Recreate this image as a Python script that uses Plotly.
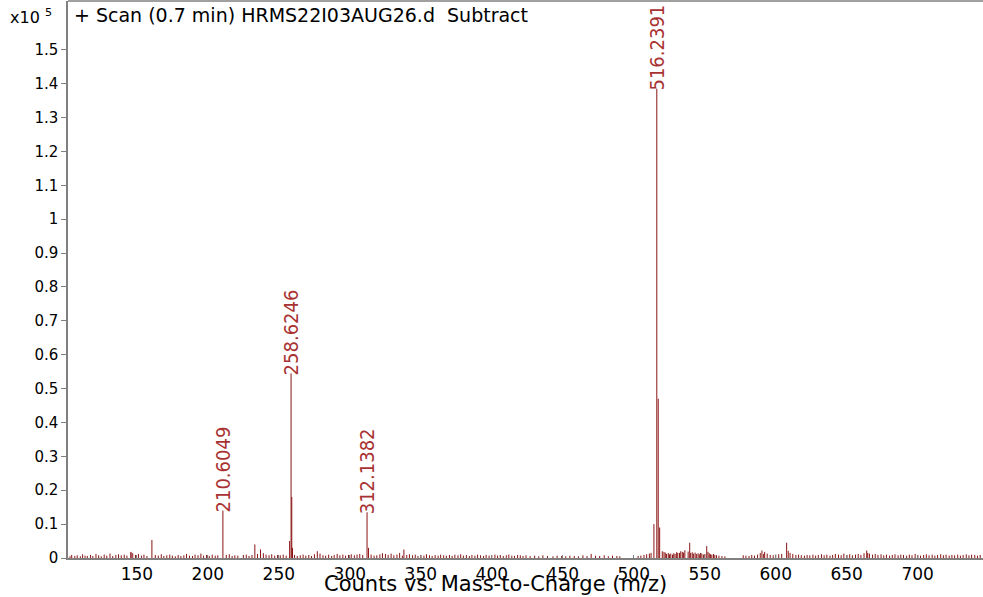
import numpy as np
import plotly.graph_objects as go

# main peaks (m/z, counts)
peak_mz = [145.9, 160.6, 210.6049, 233.1, 237.1, 257.6, 258.6246, 259.1262, 259.63,
           277.1, 312.1382, 313.14, 338.1, 514.2, 516.2391, 517.2424, 518.24,
           532.2, 539.4, 551.4, 591.5, 607.7, 664.8]
peak_counts = [1800, 5300, 14000, 4000, 2500, 5000, 54500, 18000, 3000,
               2000, 13500, 3000, 2500, 10000, 138500, 47000, 9000,
               1500, 4500, 3500, 1200, 4500, 1500]

# labelled peaks
label_mz = [210.6049, 258.6246, 312.1382, 516.2391]
label_counts = [14000, 54500, 13500, 138500]
label_text = ["210.6049", "258.6246", "312.1382", "516.2391"]

# baseline noise sticks
noise_mz = [101.2, 102.9, 104.1, 106.3, 108.0, 110.2, 111.8, 113.5, 115.1, 117.4,
            119.0, 121.2, 123.1, 124.9, 127.0, 128.8, 131.1, 133.0, 135.2, 137.1,
            139.0, 141.1, 143.0, 145.8, 147.1, 149.0, 151.1, 153.2, 155.0, 157.1,
            163.0, 165.1, 167.2, 169.0, 171.1, 173.2, 175.0, 177.1, 179.1, 181.0,
            183.1, 185.0, 187.1, 189.2, 191.0, 193.1, 195.1, 197.0, 199.1, 201.0,
            203.1, 205.2, 207.0, 213.0, 215.1, 217.1, 219.0, 221.1, 225.0, 227.1,
            229.0, 231.1, 235.0, 239.1, 241.0, 243.1, 245.0, 247.1, 249.1, 251.0,
            253.1, 255.2, 261.1, 263.0, 265.1, 267.1, 269.0, 271.1, 273.0, 275.1,
            279.0, 281.1, 283.0, 285.1, 287.2, 289.0, 291.1, 293.0, 295.1, 297.0,
            299.1, 301.0, 303.2, 305.1, 307.0, 309.1, 315.0, 317.1, 319.0, 321.2,
            323.0, 325.1, 327.0, 329.1, 331.0, 333.2, 335.1, 337.0, 340.1, 342.0,
            344.2, 346.1, 348.0, 350.1, 352.2, 354.0, 356.1, 358.0, 360.1, 362.2,
            364.0, 366.1, 368.0, 370.2, 372.1, 374.0, 376.2, 378.1, 380.0, 382.1,
            384.2, 386.0, 388.1, 390.0, 392.1, 394.2, 396.0, 398.1, 400.0, 402.2,
            404.1, 406.0, 408.1, 410.2, 412.0, 414.1, 416.0, 418.2, 420.1, 422.0,
            424.1, 427.0, 430.2, 433.1, 436.0, 439.2, 443.1, 446.0, 449.2, 452.1,
            455.0, 458.1, 461.0, 464.2, 467.1, 470.0, 473.1, 476.0, 479.2, 482.1,
            485.0, 488.1, 490.2, 503.1, 505.0, 507.2, 509.1, 511.0, 512.2, 520.1,
            521.3, 522.2, 523.1, 524.3, 525.2, 526.1, 527.3, 528.2, 529.1, 530.2,
            531.0, 533.1, 534.2, 535.1, 536.0, 538.3, 540.1, 541.2, 542.0, 543.2,
            544.1, 545.3, 546.2, 547.1, 548.0, 549.2, 550.1, 552.3, 553.2, 554.1,
            555.0, 556.2, 557.1, 558.3, 560.0, 562.1, 564.2, 577.1, 579.0, 581.2,
            583.1, 585.0, 587.2, 589.1, 590.3, 592.2, 594.0, 596.1, 598.2, 600.0,
            602.1, 604.2, 608.8, 610.1, 612.0, 614.2, 616.1, 618.0, 620.2, 622.1,
            624.0, 626.2, 628.1, 630.0, 632.2, 634.1, 636.0, 638.2, 640.1, 642.0,
            644.2, 646.1, 648.0, 650.2, 652.1, 654.0, 656.2, 658.1, 660.0, 662.2,
            664.1, 666.0, 668.2, 670.1, 672.0, 674.2, 676.1, 678.0, 680.2, 682.1,
            684.0, 686.2, 688.1, 690.0, 692.2, 694.1, 696.0, 698.2, 700.1, 702.0,
            704.2, 706.1, 708.0, 710.2, 712.1, 714.0, 716.2, 718.1, 720.0, 722.2,
            724.1, 726.0, 728.2, 730.1, 732.0, 734.2, 736.1, 738.0, 740.2, 742.1,
            744.0]
noise_counts = [700, 500, 900, 600, 800, 500, 1100, 700, 600, 900,
                600, 1200, 800, 500, 1000, 700, 1300, 600, 900, 1100,
                800, 1000, 700, 1600, 1400, 900, 1200, 700, 1000, 600,
                900, 700, 1100, 600, 800, 1000, 700, 500, 900, 600,
                800, 1200, 700, 600, 1000, 800, 1300, 700, 900, 600,
                1000, 700, 800, 900, 1100, 600, 800, 700, 900, 1000,
                600, 900, 1200, 1400, 1000, 800, 1100, 700, 900, 800,
                1000, 700, 900, 600, 800, 1000, 700, 900, 600, 1100,
                1300, 800, 700, 1000, 600, 900, 1200, 800, 1000, 700,
                900, 1100, 800, 1000, 1200, 900, 1000, 700, 800, 1100,
                1400, 1200, 900, 1300, 800, 1000, 1500, 700, 900, 1100,
                800, 1000, 600, 900, 700, 1100, 800, 600, 900, 700,
                1000, 800, 700, 900, 600, 1000, 800, 1100, 700, 900,
                600, 900, 700, 1000, 800, 600, 900, 700, 800, 1000,
                700, 900, 600, 800, 1000, 700, 600, 900, 800, 600,
                800, 600, 700, 500, 800, 600, 500, 700, 600, 500,
                700, 600, 500, 800, 600, 1200, 700, 600, 800, 500,
                700, 600, 500, 600, 700, 900, 1100, 1300, 1500, 2000,
                1800, 1600, 1200, 1500, 1100, 1300, 1000, 1400, 1200, 1700,
                1500, 2000, 1800, 1600, 2300, 1900, 1500, 1700, 1300, 1600,
                1200, 1400, 1100, 1500, 1300, 1000, 1200, 1800, 1400, 1100,
                1000, 1200, 900, 800, 700, 600, 500, 800, 700, 600,
                900, 700, 1000, 1500, 2200, 1800, 1300, 900, 800, 1000,
                1100, 1200, 2100, 1500, 1200, 900, 1000, 800, 700, 900,
                800, 1000, 700, 900, 1100, 800, 1000, 700, 900, 1200,
                1000, 800, 1300, 900, 1100, 800, 1000, 1200, 900, 1400,
                2200, 1300, 1000, 1200, 900, 1100, 800, 1000, 700, 900,
                1100, 800, 1000, 900, 700, 1000, 800, 1200, 900, 700,
                900, 1100, 800, 1000, 700, 900, 1100, 800, 1000, 700,
                900, 800, 1000, 700, 900, 1100, 800, 1000, 900, 700,
                900]

y_ticks = [0, 0.1, 0.2, 0.3, 0.4, 0.5, 0.6, 0.7, 0.8, 0.9, 1.0, 1.1, 1.2, 1.3, 1.4, 1.5]
x_ticks = [150, 200, 250, 300, 350, 400, 450, 500, 550, 600, 650, 700]

SCALE = 1e5
stick_color = "#8b1414"
label_color = "#a83232"
axis_color = "#808080"

# build stick spectrum: each peak is a vertical segment from 0 to its height
all_mz = np.array(noise_mz + peak_mz)
all_y = np.array(noise_counts + peak_counts) / SCALE
order = np.argsort(all_mz)
xs, ys = [], []
for m, h in zip(all_mz[order], all_y[order]):
    xs += [m, m, None]
    ys += [0, h, None]

fig = go.Figure()
fig.add_trace(go.Scatter(x=xs, y=ys, mode="lines",
                         line=dict(color=stick_color, width=1),
                         hoverinfo="skip", showlegend=False))

# peak labels, rotated
for m, c, t in zip(label_mz, label_counts, label_text):
    fig.add_annotation(x=m, y=c / SCALE, text=t, textangle=-90,
                       showarrow=False, xanchor="center", yanchor="bottom",
                       yshift=-3, borderpad=0,
                       font=dict(family="DejaVu Sans Condensed, Liberation Sans Narrow, Liberation Sans",
                                 size=20, color=label_color))

fig.add_annotation(xref="paper", yref="paper", x=0, y=1, xshift=4, yshift=-1,
                   xanchor="left", yanchor="top", showarrow=False,
                   text="+ Scan (0.7 min) HRMS22I03AUG26.d  Subtract",
                   font=dict(family="DejaVu Sans", size=19, color="black"))
fig.add_annotation(xref="paper", yref="paper", x=0, y=1, xshift=-14, yshift=-3,
                   xanchor="right", yanchor="top", showarrow=False,
                   text="x10 <sup>5</sup>",
                   font=dict(family="DejaVu Sans", size=16, color="black"))
fig.add_annotation(xref="paper", yref="paper", x=0.467, y=0, yshift=-12,
                   xanchor="center", yanchor="top", showarrow=False,
                   text="Counts vs. Mass-to-Charge (m/z)",
                   font=dict(family="DejaVu Sans", size=21, color="black"))

# top frame line (right edge of the frame is off the picture)
fig.add_shape(type="line", xref="paper", yref="paper", x0=0, x1=1, y0=1, y1=1,
              line=dict(color=axis_color, width=1.5))

fig.update_xaxes(range=[101.5, 746], tickvals=x_ticks, ticks="inside", ticklen=3,
                 tickcolor=axis_color, showgrid=False, zeroline=False,
                 showline=True, linecolor=axis_color, linewidth=1.5,
                 tickfont=dict(family="DejaVu Sans", size=17, color="black"))
fig.update_yaxes(range=[0, 1.644], tickvals=y_ticks, ticks="outside", ticklen=5,
                 tickcolor=axis_color, showgrid=False, zeroline=False,
                 showline=True, linecolor=axis_color, linewidth=1.5,
                 tickfont=dict(family="DejaVu Sans", size=15, color="black"))

fig.update_layout(width=983, height=597, margin=dict(l=68, r=0, t=1, b=39),
                  plot_bgcolor="white", paper_bgcolor="white")

fig.write_html("out.html", config={"displayModeBar": False},
               post_script="document.body.style.margin='0';document.body.style.overflow='hidden';")
